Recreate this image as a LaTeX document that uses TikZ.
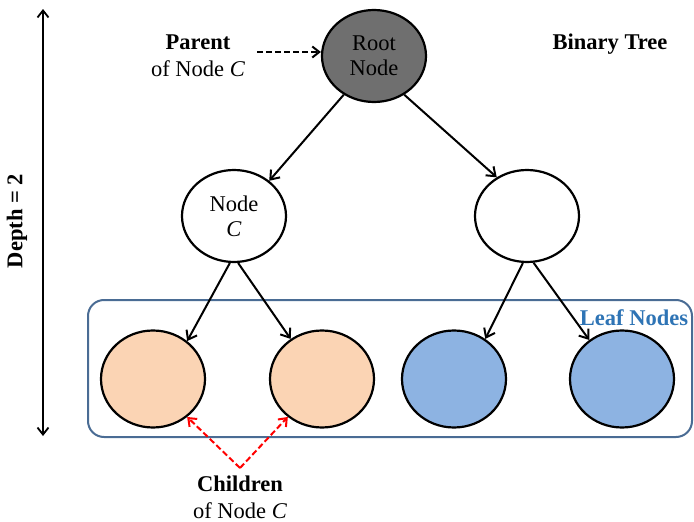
\documentclass[tikz,border=0pt]{standalone}
\usepackage{fontspec}
\setmainfont{Liberation Serif}
\usetikzlibrary{arrows.meta,shapes.geometric}
\definecolor{rootgray}{HTML}{6F6F6F}
\definecolor{peach}{HTML}{FBD4B4}
\definecolor{leafblue}{HTML}{8DB3E2}
\definecolor{boxblue}{HTML}{4A6C94}
\definecolor{txtblue}{HTML}{2E74B5}
\begin{document}
\begin{tikzpicture}[x=1pt,y=-1pt,
  every node/.style={font=\fontsize{22.5}{26}\selectfont},
  tnode/.style={ellipse,draw=black,line width=2.2pt,minimum width=104pt,minimum height=92pt,inner sep=0pt,align=center},
  leaf/.style={ellipse,draw=black,line width=2.2pt,minimum width=104pt,minimum height=97pt,inner sep=0pt},
  edge/.style={line width=2pt,-{Straight Barb[length=8pt,width=12pt,line width=2pt]}},
  lbl/.style={align=center,inner sep=0pt}]
\useasboundingbox (0,0) rectangle (694,522);
% leaf box
\node[draw=boxblue,line width=2pt,rounded corners=16pt,minimum width=604pt,minimum height=137pt,inner sep=0pt] (box) at (390,368.5) {};
\node[text=txtblue,font=\fontsize{22.5}{26}\selectfont\bfseries,inner sep=0pt] (leaflbl) at (634,318) {Leaf Nodes};
% tree nodes
\node[tnode,fill=rootgray] (root) at (374,56) {Root\\[-1pt]Node};
\node[tnode,fill=white] (c) at (234,216) {Node\\[-1pt]\textit{C}};
\node[tnode,fill=white] (r) at (527,216) {};
\node[leaf,fill=peach] (l1) at (153,379) {};
\node[leaf,fill=peach] (l2) at (322,379) {};
\node[leaf,fill=leafblue] (l3) at (454,379) {};
\node[leaf,fill=leafblue] (l4) at (622,379) {};
% edges
\draw[edge] (root.232) -- (c.45);
\draw[edge] (root.308) -- (r.128);
\draw[edge] (c.265) -- (l1.48);
\draw[edge] (c.275) -- (l2.128);
\draw[edge] (r.265) -- (l3.52);
\draw[edge] (r.278) -- (l4.130);
% parent label
\node[lbl] (parent) at (198,56) {\textbf{Parent}\\[1pt]of Node \textit{C}};
\coordinate (pa) at (257,52);
\draw[line width=2pt,dash pattern=on 6pt off 3pt,-{Straight Barb[length=7pt,width=11pt,line width=2pt]}] (pa) -- (root.west |- pa);
% title
\node[lbl,font=\fontsize{22.5}{26}\selectfont\bfseries] (title) at (610,44) {Binary Tree};
% depth
\coordinate (dtop) at (43,9);
\coordinate (dbot) at (43,436);
\draw[line width=1.8pt,{Straight Barb[length=7pt,width=11pt,line width=1.8pt]}-{Straight Barb[length=7pt,width=11pt,line width=1.8pt]}] (dtop) -- (dbot);
\node[lbl,rotate=90,font=\fontsize{22.5}{26}\selectfont\bfseries] (depth) at (17,221) {Depth = 2};
% children
\coordinate (cm) at (240,468);
\draw[red,line width=2pt,dash pattern=on 6pt off 3pt,-{Straight Barb[length=7pt,width=11pt,line width=2pt]}] (cm) -- (l1.312);
\draw[red,line width=2pt,dash pattern=on 6pt off 3pt,-{Straight Barb[length=7pt,width=11pt,line width=2pt]}] (cm) -- (l2.228);
\node[lbl] (child) at (240,497) {\textbf{Children}\\[1pt]of Node \textit{C}};
\end{tikzpicture}
\end{document}
